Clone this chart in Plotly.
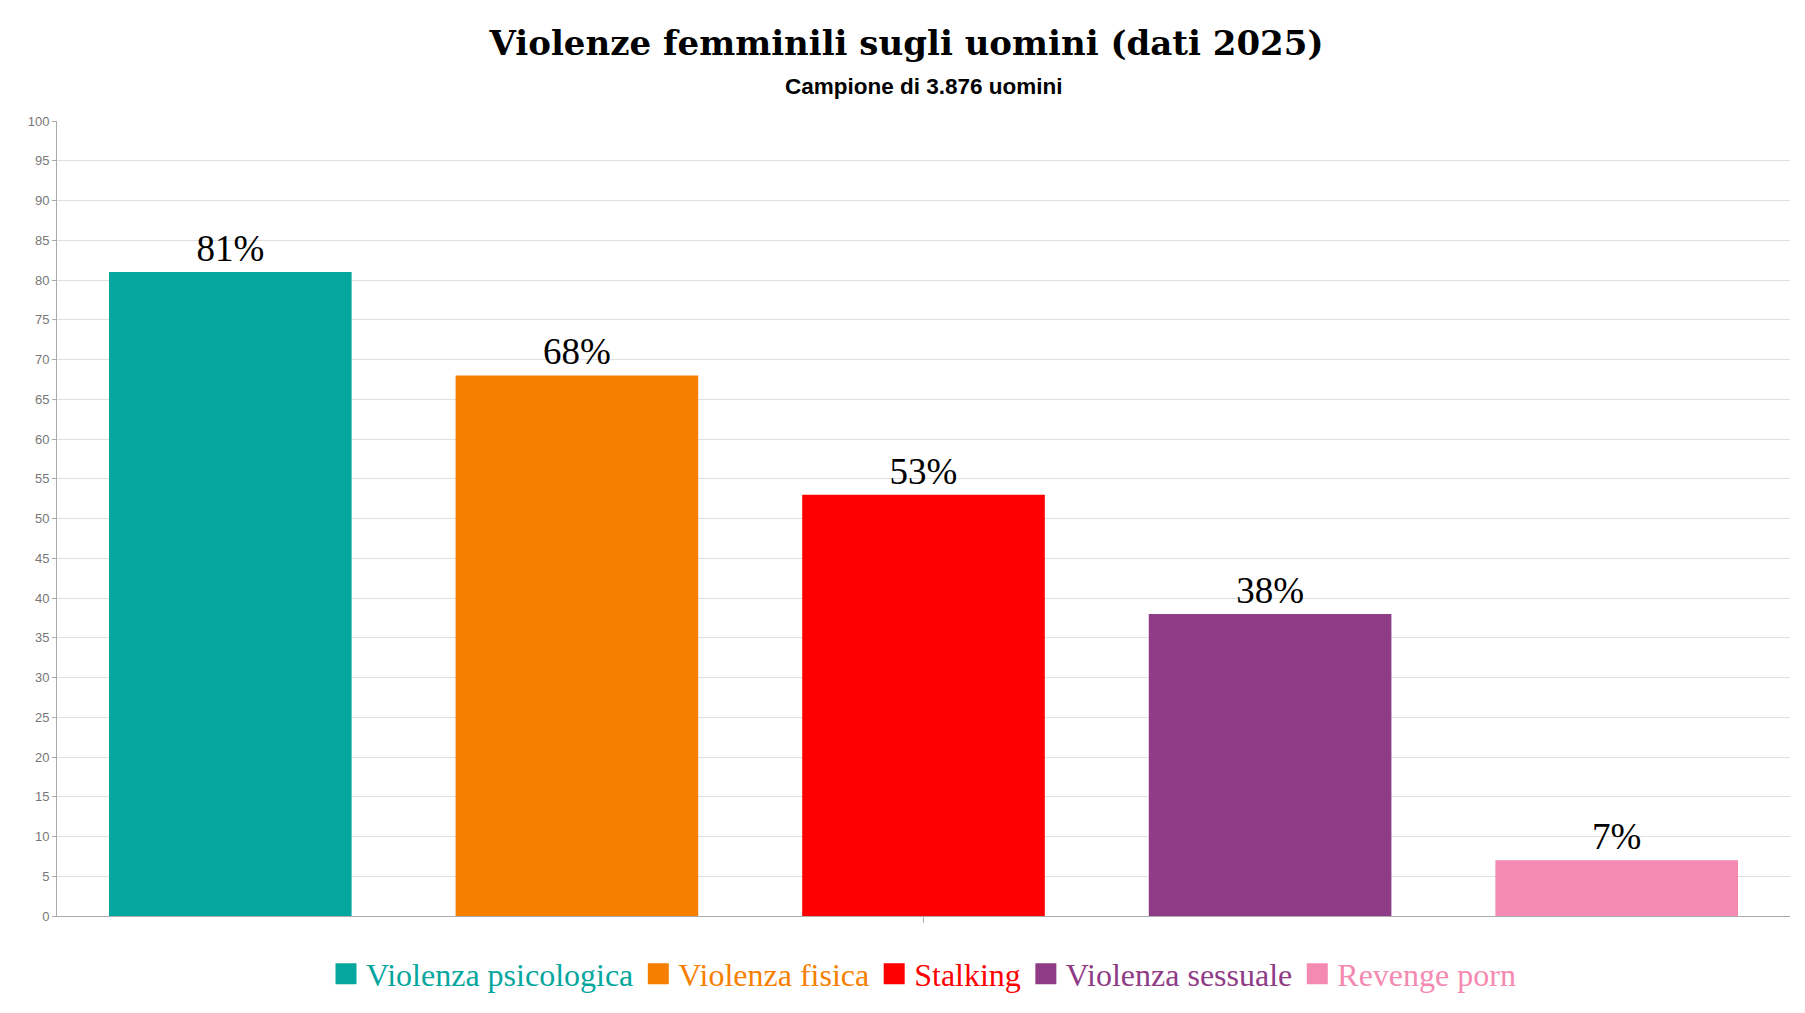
import plotly.graph_objects as go

# data
categories = ["Violenza psicologica", "Violenza fisica", "Stalking",
              "Violenza sessuale", "Revenge porn"]
values = [81, 68, 53, 38, 7]
colors = ["#04A69D", "#F77F00", "#FF0000", "#8F3C87", "#F489B1"]
y_ticks = list(range(0, 101, 5))

SERIF = "Liberation Serif"

fig = go.Figure()
for name, val, col in zip(categories, values, colors):
    fig.add_trace(go.Bar(
        x=[""],
        y=[val],
        name=name,
        marker=dict(color=col, line=dict(width=0)),
        text=[f"{val}%"],
        textposition="outside",
        textfont=dict(family=SERIF, size=37, color="#000000"),
        cliponaxis=False,
        showlegend=False,
    ))

# legend entries: bigger square swatches, text in the series colour
for name, col in zip(categories, colors):
    fig.add_trace(go.Scatter(
        x=[""],
        y=[None],
        mode="markers",
        name=f"<span style='color:{col}'>{name}</span>",
        marker=dict(symbol="square", size=16, color=col,
                    line=dict(color=col, width=5)),
        hoverinfo="skip",
    ))

fig.update_layout(
    width=1797,
    height=1005,
    barmode="group",
    bargap=0,
    bargroupgap=0.3,
    plot_bgcolor="white",
    paper_bgcolor="white",
    margin=dict(l=49, r=15, t=113, b=88),
    title=dict(
        text="<b>Violenze femminili sugli uomini (dati 2025)</b>",
        font=dict(family="DejaVu Serif", size=34, color="#000000"),
        x=0.5, xanchor="center",
        y=1 - 35 / 1005, yanchor="middle",
    ),
    legend=dict(
        orientation="h",
        x=0.5, xanchor="center",
        y=-0.0728, yanchor="middle",
        font=dict(family=SERIF, size=32),
        itemsizing="trace",
        itemwidth=30,
    ),
)

fig.add_annotation(
    text="<b>Campione di 3.876 uomini</b>",
    xref="paper", yref="paper",
    x=0.5, y=1.044, xanchor="center", yanchor="middle",
    showarrow=False,
    font=dict(family="Liberation Sans", size=22.5, color="#000000"),
)

fig.update_yaxes(
    range=[0, 100],
    tickvals=y_ticks,
    tickfont=dict(family="Liberation Sans", size=13, color="#777777"),
    showgrid=True, gridcolor="#e0e0e0", gridwidth=1,
    showline=True, linecolor="#aaaaaa", linewidth=1,
    ticks="outside", ticklen=4, tickcolor="#aaaaaa",
    zeroline=False,
)
fig.update_xaxes(
    showticklabels=False,
    ticks="outside", ticklen=6, tickcolor="#aaaaaa",
    showline=True, linecolor="#aaaaaa", linewidth=1,
    showgrid=False,
)

fig.write_html("out.html")
